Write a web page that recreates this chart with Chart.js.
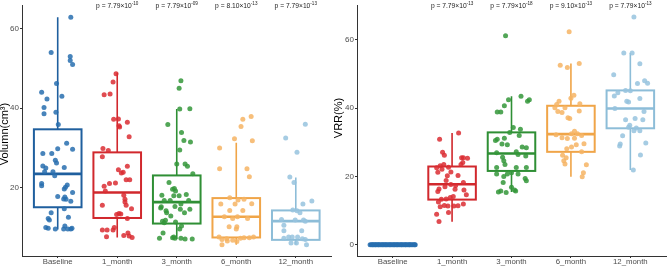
<!DOCTYPE html>
<html>
<head>
<meta charset="utf-8">
<script src="https://cdn.jsdelivr.net/npm/chart.js@4.4.1/dist/chart.umd.min.js"></script>
<style>
  html, body { margin: 0; padding: 0; background: #fff; }
  #wrap { position: relative; width: 669px; height: 266px; }
  #left { position: absolute; left: 0; top: 0; }
  #right { position: absolute; left: 334px; top: 0; }
</style>
</head>
<body>
<div id="wrap">
  <canvas id="left" width="334" height="266"></canvas>
  <canvas id="right" width="335" height="266"></canvas>
</div>
<script>
// categories + p values shown above each follow-up group
var categories = ["Baseline", "1_month", "3_month", "6_month", "12_month"];
var volP = [["7.79×10", "-10"], ["7.79×10", "-09"], ["8.10×10", "-13"], ["7.79×10", "-13"]];
var vrrP = [["7.79×10", "-13"], ["7.79×10", "-18"], ["9.10×10", "-13"], ["7.79×10", "-13"]];
var volTicks = [20, 40, 60];
var vrrTicks = [0, 20, 40, 60];

// box stats: [low whisker, q1, median, q3, high whisker]
var volStats = [
  [9.5, 15.1, 23.5, 34.7, 62.9],
  [7.5, 12.4, 18.8, 28.9, 48.9],
  [7.1, 11.0, 16.4, 23.1, 39.8],
  [5.7, 7.5, 12.7, 17.4, 31.3],
  [5.7, 6.9, 11.6, 14.3, 22.6]
];
var vrrStats = [
  [0, 0, 0, 0, 0],
  [6.7, 13.2, 17.7, 22.9, 32.7],
  [15.4, 21.6, 26.7, 32.9, 43.5],
  [19.9, 27.2, 32.4, 40.7, 53.1],
  [21.9, 34.1, 39.9, 45.2, 56.2]
];

// points: [jitter, value]
var volBaseline = [[0.22,62.9],[-0.11,54.0],[0.21,53.0],[0.21,52.0],[0.25,51.0],[-0.02,46.2],[-0.27,44.0],[-0.18,42.3],[0.07,43.0],[-0.23,40.2],[-0.23,38.6],[-0.03,39.0],[0.01,35.9],[0.15,31.2],[0.0,29.8],[0.25,29.7],[-0.25,28.6],[-0.10,28.6],[-0.04,26.9],[-0.02,26.2],[-0.25,25.5],[-0.20,25.0],[0.11,25.1],[-0.22,24.0],[-0.08,24.0],[-0.05,23.0],[-0.27,21.1],[-0.27,20.5],[0.13,20.1],[0.11,19.7],[0.16,20.7],[0.25,18.8],[0.0,17.8],[0.12,17.7],[0.10,17.2],[0.14,17.1],[0.22,16.6],[0.11,14.7],[-0.11,13.7],[-0.16,12.3],[-0.14,11.9],[0.18,12.6],[0.12,10.4],[-0.20,10.0],[-0.16,9.8],[-0.04,9.6],[0.17,9.6],[0.22,9.6],[0.10,9.6],[0.24,9.8]];
var vol1m = [[-0.02,48.7],[-0.07,46.6],[-0.22,43.4],[-0.12,43.6],[-0.06,37.2],[0.02,37.3],[0.17,36.5],[0.03,35.6],[0.04,35.3],[0.20,32.8],[-0.24,29.9],[-0.15,29.4],[-0.25,27.8],[0.17,25.4],[0.02,24.5],[0.10,23.9],[0.07,23.7],[0.15,22.0],[0.21,22.0],[-0.03,21.2],[-0.13,21.1],[-0.22,20.4],[-0.20,19.2],[0.11,18.1],[0.13,17.1],[-0.25,15.6],[0.13,16.4],[0.15,15.6],[0.24,14.7],[0.03,13.5],[0.06,13.4],[-0.01,13.3],[0.17,12.3],[-0.25,9.4],[-0.17,9.4],[-0.07,9.4],[-0.05,10.0],[-0.18,7.7],[0.11,8.0],[0.20,7.9],[0.25,7.5],[0.18,8.6]];
var vol3m = [[0.07,46.9],[0.04,45.0],[0.05,39.8],[0.22,39.9],[-0.15,35.9],[0.08,33.9],[0.12,31.9],[0.23,31.5],[0.05,29.5],[0.0,26.0],[0.14,26.0],[0.18,25.4],[0.27,23.5],[-0.13,21.3],[-0.04,19.8],[-0.07,19.6],[-0.02,19.2],[-0.05,18.0],[-0.25,18.1],[0.04,18.0],[0.16,18.3],[-0.21,16.8],[-0.11,16.8],[0.20,16.8],[0.07,15.9],[-0.03,15.3],[-0.27,14.9],[0.22,14.6],[-0.18,14.2],[0.06,14.6],[0.13,13.7],[-0.10,12.9],[-0.24,11.6],[-0.19,11.8],[-0.02,11.4],[0.08,10.4],[0.05,9.6],[-0.23,8.6],[-0.07,7.4],[-0.05,7.6],[-0.03,7.3],[0.07,7.3],[0.14,7.1],[0.26,7.1],[-0.29,7.3],[-0.26,15.2],[-0.17,13.7],[-0.21,11.2]];
var vol6m = [[0.25,37.9],[0.11,37.2],[0.08,35.4],[-0.03,32.3],[0.27,31.8],[-0.28,30.0],[-0.28,24.8],[0.18,24.8],[0.22,22.8],[-0.11,17.5],[0.03,16.9],[0.13,17.1],[-0.26,15.9],[-0.02,15.9],[0.26,16.0],[-0.11,14.3],[0.11,14.3],[-0.20,12.7],[0.02,12.7],[0.19,12.3],[-0.06,12.3],[-0.12,10.2],[0.01,10.2],[0.0,9.6],[-0.29,7.6],[-0.24,7.0],[-0.16,7.2],[-0.06,6.8],[0.01,6.5],[0.13,7.4],[0.22,7.4],[0.29,7.6],[-0.24,5.7],[0.07,7.3],[-0.15,6.6]];
var vol12m = [[0.16,36.0],[-0.17,32.5],[0.02,28.9],[-0.10,22.7],[-0.03,21.3],[0.27,16.7],[0.12,15.9],[-0.05,14.4],[0.02,14.2],[0.07,13.7],[-0.24,12.0],[-0.01,11.9],[0.13,11.9],[0.16,11.6],[-0.20,10.6],[0.10,9.2],[-0.20,9.2],[-0.12,7.6],[0.03,7.6],[0.11,7.2],[-0.08,6.1],[0.01,6.1],[0.18,5.7],[0.16,7.0],[-0.20,7.3],[-0.06,7.6]];

var vrrBaseline = [[-0.38,0],[-0.36,0],[-0.34,0],[-0.33,0],[-0.31,0],[-0.29,0],[-0.28,0],[-0.26,0],[-0.24,0],[-0.23,0],[-0.21,0],[-0.19,0],[-0.17,0],[-0.16,0],[-0.14,0],[-0.12,0],[-0.11,0],[-0.09,0],[-0.07,0],[-0.05,0],[-0.04,0],[-0.02,0],[0.0,0],[0.02,0],[0.03,0],[0.05,0],[0.07,0],[0.08,0],[0.10,0],[0.12,0],[0.14,0],[0.15,0],[0.17,0],[0.19,0],[0.21,0],[0.22,0],[0.24,0],[0.26,0],[0.28,0],[0.29,0],[0.31,0],[0.33,0],[0.35,0],[0.37,0],[0.38,0]];
var vrr1m = [[0.11,32.7],[-0.21,30.9],[-0.16,27.1],[-0.13,26.2],[0.16,25.5],[0.19,25.5],[0.26,25.3],[0.18,24.1],[0.15,23.5],[-0.14,23.5],[-0.20,23.1],[-0.06,22.7],[-0.26,22.5],[-0.24,21.2],[-0.17,22.1],[-0.02,21.3],[0.10,20.3],[-0.08,20.2],[-0.10,18.8],[-0.02,17.6],[0.06,17.3],[0.19,18.2],[-0.12,17.0],[-0.22,16.3],[-0.24,15.6],[0.05,16.2],[0.20,16.0],[0.24,14.6],[0.02,14.1],[-0.03,13.8],[-0.18,13.3],[-0.10,13.4],[-0.23,12.5],[-0.07,11.3],[0.03,11.3],[0.10,11.4],[-0.13,11.5],[0.19,11.9],[-0.20,11.1],[-0.06,9.4],[-0.26,8.9],[-0.22,6.8]];
var vrr3m = [[-0.10,61.2],[0.16,43.5],[-0.05,42.5],[0.30,42.5],[0.27,42.0],[-0.12,40.7],[-0.18,38.9],[-0.24,38.9],[0.03,34.3],[0.15,33.8],[-0.03,32.9],[0.13,32.0],[-0.12,31.2],[-0.27,30.5],[-0.24,30.9],[-0.16,29.5],[-0.07,29.3],[0.18,28.6],[0.25,28.4],[-0.25,26.9],[0.08,27.2],[0.11,26.4],[0.24,26.0],[-0.15,25.6],[-0.13,24.6],[-0.11,23.5],[-0.25,22.6],[0.08,22.6],[0.25,22.6],[0.0,21.1],[0.11,20.7],[-0.13,20.0],[-0.07,20.7],[-0.25,20.7],[0.23,19.4],[0.25,18.7],[-0.14,18.2],[0.0,16.8],[-0.18,15.7],[-0.09,15.3],[0.05,16.0],[0.07,15.7],[-0.22,15.4]];
var vrr6m = [[-0.03,62.4],[-0.18,52.6],[-0.06,51.9],[0.14,53.1],[0.05,43.8],[0.0,42.9],[-0.20,42.0],[-0.24,41.1],[0.15,41.3],[-0.27,40.1],[-0.10,40.1],[-0.22,39.0],[0.14,39.2],[-0.15,38.7],[-0.05,37.2],[-0.02,37.0],[0.06,33.2],[-0.25,32.2],[0.11,32.5],[0.01,32.5],[-0.15,31.3],[0.18,32.0],[0.06,31.2],[-0.06,31.1],[0.22,29.6],[0.09,29.3],[0.01,28.6],[-0.07,28.1],[0.18,27.2],[-0.14,26.2],[-0.08,25.5],[-0.12,24.6],[-0.10,23.6],[0.26,23.4],[0.21,21.1],[0.19,19.9]];
var vrr12m = [[0.06,66.7],[-0.11,56.2],[0.03,56.2],[0.16,53.0],[-0.28,49.8],[0.12,47.2],[0.24,48.0],[0.29,47.3],[-0.08,45.2],[0.0,45.1],[-0.21,44.5],[-0.27,43.6],[0.16,42.8],[-0.06,42.0],[-0.03,41.8],[-0.26,39.9],[0.23,39.0],[0.08,37.0],[-0.08,36.6],[0.21,36.6],[-0.01,35.0],[-0.03,34.4],[0.10,34.2],[0.06,33.4],[0.16,33.4],[-0.13,31.9],[-0.17,29.5],[-0.18,28.9],[0.26,29.8],[0.17,26.3],[0.05,21.9]];

var boxColors = ["#1f5f9e", "#d1282d", "#2f8f35", "#f0a548", "#8dbdd8"];
var pointColors = ["rgba(40,110,175,0.85)", "rgba(218,45,50,0.85)", "rgba(52,150,58,0.85)", "rgba(246,180,100,0.85)", "rgba(150,195,222,0.85)"];

var FONT = "'Liberation Sans', Arial, Helvetica, sans-serif";
Chart.defaults.font.family = FONT;

function boxPlugin(stats, pLabels, title, titleY) {
  return {
    id: "boxes",
    beforeDatasetsDraw: function (chart) {
      var ctx = chart.ctx, x = chart.scales.x, y = chart.scales.y;
      ctx.save();
      stats.forEach(function (s, i) {
        var xc = x.getPixelForValue(i);
        var hw = x.getPixelForValue(i + 0.4) - xc;
        ctx.strokeStyle = boxColors[i];
        // whiskers
        ctx.lineWidth = 1.6;
        ctx.beginPath();
        ctx.moveTo(xc, y.getPixelForValue(s[4]));
        ctx.lineTo(xc, y.getPixelForValue(s[3]));
        ctx.moveTo(xc, y.getPixelForValue(s[1]));
        ctx.lineTo(xc, y.getPixelForValue(s[0]));
        ctx.stroke();
        // box
        ctx.lineWidth = 2;
        var top = y.getPixelForValue(s[3]), bot = y.getPixelForValue(s[1]);
        ctx.strokeRect(xc - hw, top, hw * 2, bot - top);
        // median
        ctx.lineWidth = 2.6;
        ctx.beginPath();
        ctx.moveTo(xc - hw, y.getPixelForValue(s[2]));
        ctx.lineTo(xc + hw, y.getPixelForValue(s[2]));
        ctx.stroke();
      });
      ctx.restore();
    },
    afterDraw: function (chart) {
      var ctx = chart.ctx, x = chart.scales.x;
      ctx.save();
      ctx.fillStyle = "#1a1a1a";
      ctx.textBaseline = "alphabetic";
      pLabels.forEach(function (p, k) {
        var xc = x.getPixelForValue(k + 1);
        ctx.font = "6.7px " + FONT;
        var base = "p = " + p[0];
        var w1 = ctx.measureText(base).width;
        ctx.font = "4.6px " + FONT;
        var w2 = ctx.measureText(p[1]).width;
        var x0 = xc - (w1 + w2) / 2;
        ctx.font = "6.7px " + FONT;
        ctx.fillText(base, x0, 8);
        ctx.font = "4.6px " + FONT;
        ctx.fillText(p[1], x0 + w1, 5);
      });
      // y axis title
      ctx.fillStyle = "#000";
      ctx.font = "11px " + FONT;
      ctx.textAlign = "center";
      ctx.translate(8, titleY);
      ctx.rotate(-Math.PI / 2);
      ctx.fillText(title, 0, 0);
      ctx.restore();
    }
  };
}

function makeChart(id, groups, stats, pLabels, yMin, yMax, yTicks, title, titleY, axisW, padR) {
  var datasets = groups.map(function (pts, i) {
    return {
      label: categories[i],
      data: pts.map(function (p) { return { x: i + p[0], y: p[1] }; }),
      backgroundColor: pointColors[i],
      borderWidth: 0,
      pointRadius: 2.5,
      pointHoverRadius: 2.5
    };
  });
  return new Chart(document.getElementById(id).getContext("2d"), {
    type: "scatter",
    data: { datasets: datasets },
    options: {
      responsive: false,
      animation: false,
      devicePixelRatio: 1,
      layout: { padding: { top: 2, right: padR, left: 0, bottom: 0 } },
      plugins: { legend: { display: false }, tooltip: { enabled: false } },
      scales: {
        x: {
          type: "linear",
          min: -0.6,
          max: 4.6,
          afterBuildTicks: function (s) {
            s.ticks = [0, 1, 2, 3, 4].map(function (v) { return { value: v }; });
          },
          afterFit: function (s) { s.height = 10; },
          ticks: {
            callback: function (v) { return categories[v]; },
            font: { size: 7.8 },
            color: "#4d4d4d",
            padding: -1,
            maxRotation: 0,
            autoSkip: false
          },
          grid: { display: true, drawOnChartArea: false, drawTicks: true, tickLength: 2, color: "#333" },
          border: { display: true, color: "#333", width: 1 }
        },
        y: {
          min: yMin,
          max: yMax,
          afterBuildTicks: function (s) {
            s.ticks = yTicks.map(function (v) { return { value: v }; });
          },
          afterFit: function (s) { s.width = axisW; },
          ticks: { font: { size: 8 }, color: "#4d4d4d", padding: 1 },
          grid: { display: true, drawOnChartArea: false, drawTicks: true, tickLength: 2, color: "#333" },
          border: { display: true, color: "#333", width: 1 }
        }
      }
    },
    plugins: [boxPlugin(stats, pLabels, title, titleY)]
  });
}

makeChart("left", [volBaseline, vol1m, vol3m, vol6m, vol12m], volStats, volP,
  2.84, 65.76, volTicks, "Volumn(cm³)", 134, 22, 2);
makeChart("right", [vrrBaseline, vrr1m, vrr3m, vrr6m, vrr12m], vrrStats, vrrP,
  -3.33, 70.0, vrrTicks, "VRR(%)", 118, 23, 3);
</script>
</body>
</html>
